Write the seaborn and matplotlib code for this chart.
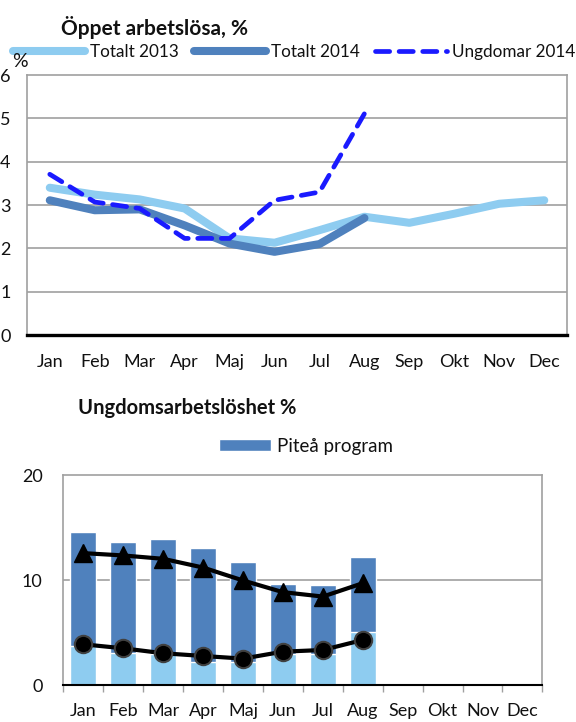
import numpy as np
import pandas as pd
import matplotlib
matplotlib.use("Agg")
import matplotlib.pyplot as plt
import seaborn as sns

months = ["Jan", "Feb", "Mar", "Apr", "Maj", "Jun", "Jul", "Aug", "Sep", "Okt", "Nov", "Dec"]
totalt_2013 = [3.40, 3.24, 3.13, 2.92, 2.23, 2.13, 2.42, 2.73, 2.59, 2.80, 3.03, 3.11]
totalt_2014 = [3.11, 2.88, 2.90, 2.53, 2.11, 1.92, 2.10, 2.70]
ungdomar_2014 = [3.71, 3.07, 2.92, 2.23, 2.23, 3.11, 3.30, 5.11]

pitea_program = [14.6, 13.6, 13.9, 13.1, 11.7, 9.6, 9.5, 12.2]
light_bars = [3.7, 3.1, 3.0, 2.25, 2.25, 2.95, 3.0, 5.1]
triangle_line = [12.57, 12.35, 12.03, 11.2, 9.97, 8.86, 8.44, 9.71]
circle_line = [3.9, 3.52, 3.05, 2.79, 2.54, 3.2, 3.36, 4.31]

LIGHT = "#8ECCF0"
DARK = "#4F81BD"
DASH = "#1A1AFF"
GRID = "#A0A0A0"
TXT = "#111111"

sns.set_theme(style="white")
plt.rcParams["font.family"] = ["Lato", "DejaVu Sans"]

fig = plt.figure(figsize=(5.76, 7.22), dpi=100)

# ---------- top chart ----------
ax1 = fig.add_axes([0.0474, 0.536, 0.9365, 0.360])
df13 = pd.DataFrame({"x": np.arange(len(totalt_2013)), "y": totalt_2013})
df14 = pd.DataFrame({"x": np.arange(len(totalt_2014)), "y": totalt_2014})
dfu = pd.DataFrame({"x": np.arange(len(ungdomar_2014)), "y": ungdomar_2014})
sns.lineplot(data=df13, x="x", y="y", ax=ax1, color=LIGHT, lw=5.8,
             solid_capstyle="round", label="Totalt 2013")
sns.lineplot(data=df14, x="x", y="y", ax=ax1, color=DARK, lw=5.8,
             solid_capstyle="round", label="Totalt 2014")
sns.lineplot(data=dfu, x="x", y="y", ax=ax1, color=DASH, lw=3.4,
             dashes=False, label="Ungdomar 2014")
ax1.lines[-1].set_linestyle((0, (3, 2)))
ax1.lines[-1].set_dash_capstyle("round")
ax1.set_xlim(-0.5, 11.5)
ax1.set_ylim(0, 6)
ax1.set_xticks(np.arange(12))
ax1.set_xticklabels(months, fontsize=13, color=TXT)
ax1.set_yticks(range(7))
ax1.set_yticklabels([str(v) for v in range(7)], fontsize=13, color=TXT)
ax1.tick_params(axis="y", length=0, pad=12)
ax1.tick_params(axis="x", length=0, pad=14)
ax1.set_xlabel("")
ax1.set_ylabel("")
for y in range(1, 6):
    ax1.axhline(y, color=GRID, lw=1.2, zorder=0)
for s in ["left", "top", "right"]:
    ax1.spines[s].set_color(GRID)
    ax1.spines[s].set_linewidth(1.2)
ax1.spines["bottom"].set_color("black")
ax1.spines["bottom"].set_linewidth(2.4)
leg = ax1.legend(loc="center", bbox_to_anchor=(0.511, 0.928),
                 bbox_transform=fig.transFigure, ncol=3, frameon=False,
                 fontsize=12.3, handlelength=4.2, handletextpad=0.3,
                 columnspacing=0.9, borderpad=0)
for t in leg.get_texts():
    t.set_color(TXT)
fig.text(0.269, 0.962, "Öppet arbetslösa, %", ha="center", va="center",
         fontsize=15, fontweight="bold", color=TXT)
fig.text(0.035, 0.915, "%", ha="center", va="center", fontsize=14, color=TXT)

# ---------- bottom chart ----------
ax2 = fig.add_axes([0.110, 0.0508, 0.8316, 0.2913])
x8 = np.arange(len(pitea_program))
ax2.bar(x8, pitea_program, width=0.65, color=DARK, label="Piteå program", zorder=2)
ax2.bar(x8, light_bars, width=0.65, color=LIGHT, zorder=2)
ax2.plot(x8, triangle_line, color="black", lw=3, marker="^", ms=12.5,
         markeredgecolor="black", zorder=4)
ax2.plot(x8, circle_line, color="black", lw=3, marker="o", ms=12.5,
         markerfacecolor="black", markeredgecolor="#404040", markeredgewidth=1.5, zorder=4)
ax2.set_xlim(-0.5, 11.5)
ax2.set_ylim(0, 20)
ax2.set_yticks([0, 10, 20])
ax2.set_yticklabels(["0", "10", "20"], fontsize=13, color=TXT)
ax2.tick_params(axis="y", length=0, pad=15)
ax2.set_xticks(np.arange(12))
ax2.set_xticklabels(months, fontsize=13, color=TXT)
ax2.set_xticks(np.arange(-0.5, 12.0, 1), minor=True)
ax2.tick_params(axis="x", which="major", length=0, pad=13)
ax2.tick_params(axis="x", which="minor", length=5, width=1, color=GRID, direction="out")
ax2.xaxis.set_tick_params(which="minor", bottom=True)
ax2.axhline(10, color=GRID, lw=1.2, zorder=1)
for s in ["left", "top", "right"]:
    ax2.spines[s].set_color(GRID)
    ax2.spines[s].set_linewidth(1.2)
ax2.spines["bottom"].set_color("black")
ax2.spines["bottom"].set_linewidth(1.5)
leg2 = ax2.legend(loc="center", bbox_to_anchor=(0.531, 0.382),
                  bbox_transform=fig.transFigure, frameon=False, fontsize=13.5,
                  handlelength=2.8, handleheight=0.55, handletextpad=0.3, borderpad=0)
for t in leg2.get_texts():
    t.set_color(TXT)
fig.text(0.3255, 0.435, "Ungdomsarbetslöshet %", ha="center", va="center",
         fontsize=14.5, fontweight="bold", color=TXT)

fig.savefig("out.png", dpi=100)
